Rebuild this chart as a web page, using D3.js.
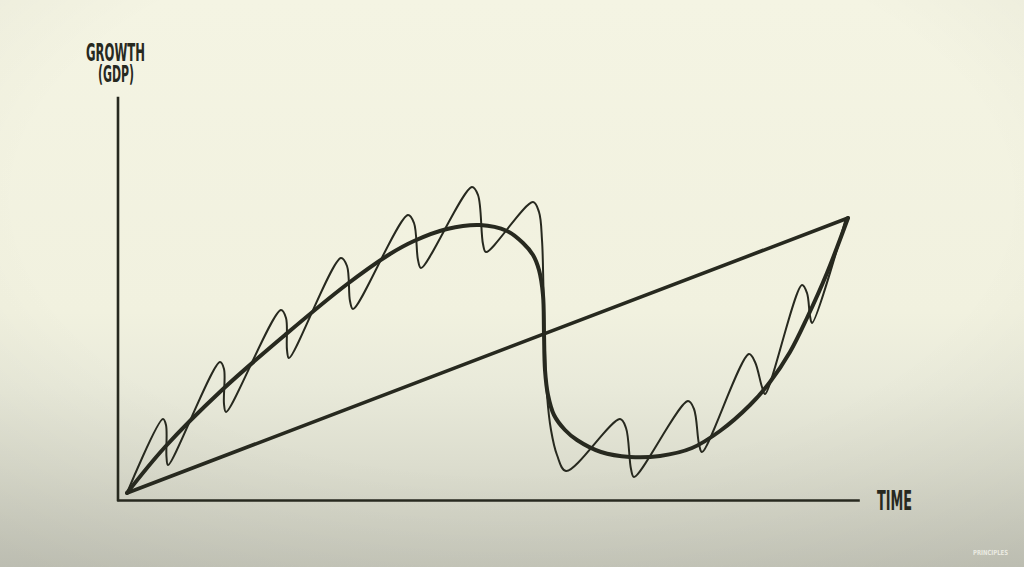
<!DOCTYPE html>
<html>
<head>
<meta charset="utf-8">
<script src="https://cdn.jsdelivr.net/npm/d3@7"></script>
<style>
  html, body { margin: 0; padding: 0; background: #f3f3e2; }
  svg { display: block; }
</style>
</head>
<body>
<script>
// ---- data (time units 0-740, growth units 0-400; conceptual chart, no ticks) ----
const trendT = [9, 730];
const trendG = [7, 282];

const longCycleT = [9, 47, 104, 167, 228, 272, 296, 329, 362, 389, 405, 415, 421, 425, 426, 427, 430, 436, 447, 459, 483, 512, 542, 574, 602, 632, 652, 672, 689, 709, 730];
const longCycleG = [7, 53, 110, 165, 215, 246, 259, 271, 275, 269, 257, 245, 230, 205, 167, 130, 105, 85, 70, 60, 48, 43, 44, 52, 69, 95, 118, 148, 182, 227, 282];

// short-term cycle: peak, shoulder after peak, shoulder before trough, trough
const shortCycleT = [9,
  45, 48, 48.5, 50,
  102, 106, 106, 108,
  163, 168, 169, 171,
  223, 229, 232, 235,
  290, 296, 300, 303,
  354, 360, 365, 368,
  415, 421, 424, 425.5, 427, 429, 433, 439, 448,
  502, 508, 513, 516,
  570, 576, 581, 584,
  631, 637, 644, 647,
  684, 689, 692, 694,
  728];
const shortCycleG = [7,
  81, 75, 43, 35,
  138, 131, 96, 88,
  190, 182, 150, 142,
  242, 234, 199, 191,
  285, 277, 240, 232,
  313, 305, 256, 248,
  298, 288, 260, 210, 150, 105, 70, 45, 29,
  81, 72, 31, 23,
  99, 91, 56, 48,
  146, 138, 113, 106,
  215, 207, 184, 177,
  282];

const yLabelLines = ["GROWTH", "(GDP)"];
const xLabel = "TIME";
const creditText = "PRINCIPLES";

// ---- drawing ----
const W = 1024, H = 567;
const ink = "#27291f";

const svg = d3.select("body").append("svg").attr("width", W).attr("height", H);

const defs = svg.append("defs");
const bg = defs.append("linearGradient").attr("id", "bg").attr("x1", 0).attr("y1", 0).attr("x2", 0).attr("y2", 1);
[["0%", "#f4f4e3"], ["55%", "#f1f1df"], ["68%", "#e9eada"], ["82%", "#dcddce"], ["100%", "#c8c9bc"]]
  .forEach(([o, c]) => bg.append("stop").attr("offset", o).attr("stop-color", c));
const vig = defs.append("radialGradient").attr("id", "vig").attr("cx", 0.5).attr("cy", 0.35).attr("r", 0.8);
vig.append("stop").attr("offset", "60%").attr("stop-color", "#000").attr("stop-opacity", 0);
vig.append("stop").attr("offset", "100%").attr("stop-color", "#000").attr("stop-opacity", 0.06);

svg.append("rect").attr("width", W).attr("height", H).attr("fill", "url(#bg)");
svg.append("rect").attr("width", W).attr("height", H).attr("fill", "url(#vig)");

const x = d3.scaleLinear().domain([0, 740]).range([118, 858]);
const y = d3.scaleLinear().domain([0, 400]).range([500, 100]);

// axes (plain lines, no ticks)
const xAxis = d3.axisBottom(x).tickValues([]).tickSizeOuter(0);
const yAxis = d3.axisLeft(y).tickValues([]).tickSizeOuter(0);
const gx = svg.append("g").attr("transform", `translate(0,${y(0)})`).call(xAxis);
const gy = svg.append("g").attr("transform", `translate(${x(0)},0)`).call(yAxis);
[gx, gy].forEach(g => g.select(".domain").attr("stroke", ink).attr("stroke-width", 2.6).attr("stroke-linecap", "square"));
gy.select(".domain").attr("d", `M0,${y(0)}V${y(402)}`);

const pts = (T, G) => T.map((t, i) => [t, G[i]]);

// straight trend line
svg.append("path")
  .datum(pts(trendT, trendG))
  .attr("d", d3.line().x(d => x(d[0])).y(d => y(d[1])))
  .attr("fill", "none").attr("stroke", ink).attr("stroke-width", 3.6).attr("stroke-linecap", "round");

// short-term cycle (thin)
svg.append("path")
  .datum(pts(shortCycleT, shortCycleG))
  .attr("d", d3.line().x(d => x(d[0])).y(d => y(d[1])).curve(d3.curveCatmullRom.alpha(0.5)))
  .attr("fill", "none").attr("stroke", ink).attr("stroke-width", 2).attr("stroke-linejoin", "round");

// long-term cycle (thick)
svg.append("path")
  .datum(pts(longCycleT, longCycleG))
  .attr("d", d3.line().x(d => x(d[0])).y(d => y(d[1])).curve(d3.curveCatmullRom.alpha(0.5)))
  .attr("fill", "none").attr("stroke", ink).attr("stroke-width", 4).attr("stroke-linecap", "round");

// labels
const labelFont = "'DejaVu Sans Condensed', 'DejaVu Sans', sans-serif";
const yl = svg.append("text")
  .attr("font-family", labelFont).attr("font-weight", "bold").attr("fill", ink);
yl.append("tspan").text(yLabelLines[0]).attr("x", 86).attr("y", 61).attr("font-size", 25)
  .attr("textLength", 59).attr("lengthAdjust", "spacingAndGlyphs");
yl.append("tspan").text(yLabelLines[1]).attr("x", 98).attr("y", 82).attr("font-size", 23)
  .attr("textLength", 36).attr("lengthAdjust", "spacingAndGlyphs");
svg.append("text").text(xLabel)
  .attr("x", 877).attr("y", 510).attr("textLength", 35).attr("lengthAdjust", "spacingAndGlyphs")
  .attr("font-family", labelFont).attr("font-weight", "bold").attr("font-size", 26).attr("fill", ink);
svg.append("text").text(creditText)
  .attr("x", 973).attr("y", 555).attr("textLength", 35).attr("lengthAdjust", "spacingAndGlyphs")
  .attr("font-family", labelFont).attr("font-weight", "bold").attr("font-size", 7).attr("fill", "#f2f2ea").attr("opacity", 0.85);
</script>
</body>
</html>
